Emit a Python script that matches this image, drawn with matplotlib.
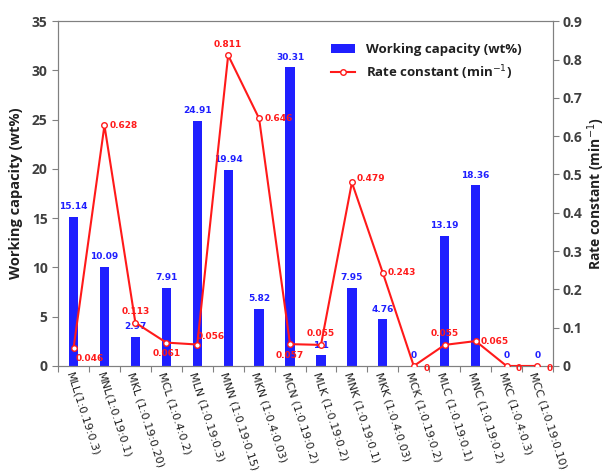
import numpy as np
import matplotlib.pyplot as plt

samples = ["MLL(1:0.19:0.3)", "MNL(1:0.19:0.1)", "MKL (1:0.19:0.20)", "MCL (1:0.4:0.2)",
           "MLN (1:0.19:0.3)", "MNN (1:0.19:0.15)", "MKN (1:0.4:0.03)", "MCN (1:0.19:0.2)",
           "MLK (1:0.19:0.2)", "MNK (1:0.19:0.1)", "MKK (1:0.4:0.03)", "MCK (1:0.19:0.2)",
           "MLC (1:0.19:0.1)", "MNC (1:0.19:0.2)", "MKC (1:0.4:0.3)", "MCC (1:0.19:0.10)"]
capacity = [15.14, 10.09, 2.97, 7.91, 24.91, 19.94, 5.82, 30.31,
            1.1, 7.95, 4.76, 0, 13.19, 18.36, 0, 0]
rate = [0.046, 0.628, 0.113, 0.061, 0.056, 0.811, 0.646, 0.057,
        0.055, 0.479, 0.243, 0, 0.055, 0.065, 0, 0]
rate_text = ["0.046", "0.628", "0.113", "0.061", "0.056", "0.811", "0.646", "0.057",
             "0.055", "0.479", "0.243", "0", "0.055", "0.065", "0", "0"]
# label offsets (points) for the rate labels
rate_off = [(12, -7), (14, 0), (0, 8), (0, -8), (10, 6), (0, 8), (14, 0), (0, -8),
            (0, 8), (14, 3), (14, 0), (9, -2), (0, 8), (14, 0), (9, -2), (9, -2)]

blue = '#1f1fff'
red = '#ff1a1a'
tick_col = '#404040'

fig = plt.figure(figsize=(6.11, 4.71), dpi=100)
ax = fig.add_axes([0.095, 0.223, 0.81, 0.732])
x = np.arange(len(samples))

bars = ax.bar(x, capacity, width=0.3, color=blue, label='Working capacity (wt%)', zorder=2)
for xi, v in zip(x, capacity):
    ax.annotate(f"{v:g}" if v != 0 else "0", (xi, v), xytext=(0, 4), textcoords='offset points',
                ha='center', va='bottom', color=blue, fontsize=6.5, fontweight='bold',
                family='DejaVu Sans')

ax.set_xlim(-0.5, len(samples) - 0.5)
ax.set_ylim(0, 35)
ax.set_yticks(range(0, 36, 5))
ax.set_xticks(np.arange(-0.5, len(samples), 1.0))
ax.set_xticklabels([])
ax.set_xticks(x, minor=True)
ax.set_xticklabels(samples, minor=True, rotation=-72, ha='left', rotation_mode='anchor',
                   fontsize=8, family='DejaVu Sans', color='#202020')
ax.tick_params(axis='x', which='minor', length=0, pad=4)
ax.tick_params(axis='x', which='major', length=4, direction='out', color='#808080')
ax.tick_params(axis='y', length=4, direction='out', color='#808080', labelsize=10,
               labelcolor=tick_col)
for lab in ax.get_yticklabels():
    lab.set_fontweight('bold')
    lab.set_family('Open Sans')
ax.set_ylabel('Working capacity (wt%)', fontsize=10.5, fontweight='bold', family='Open Sans',
              color='#202020', labelpad=6)
for s in ['left', 'bottom', 'top', 'right']:
    ax.spines[s].set_color('#808080')

ax2 = ax.twinx()
line, = ax2.plot(x, rate, color=red, lw=1.5, marker='o', ms=4, mfc='white', mec=red,
                 mew=1, label='Rate constant (min$^{-1}$)', zorder=3)
for xi, v, t, (dx, dy) in zip(x, rate, rate_text, rate_off):
    ax2.annotate(t, (xi, v), xytext=(dx, dy), textcoords='offset points', ha='center',
                 va='center', color=red, fontsize=6.5, fontweight='bold', family='DejaVu Sans')
ax2.set_ylim(0, 0.9)
ax2.set_yticks(np.arange(0, 0.91, 0.1))
ax2.set_yticklabels(['0'] + [f"{v:.1f}" for v in np.arange(0.1, 0.91, 0.1)])
ax2.tick_params(axis='y', length=4, direction='out', color='#808080', labelsize=10,
                labelcolor=tick_col, pad=3)
for lab in ax2.get_yticklabels():
    lab.set_fontweight('bold')
    lab.set_family('Open Sans')
ax2.set_ylabel('Rate constant (min$^{-1}$)', fontsize=10, fontweight='bold', family='Open Sans',
               color='#202020', labelpad=2)
for s in ['left', 'bottom', 'top', 'right']:
    ax2.spines[s].set_color('#808080')

leg = ax2.legend([bars, line], ['Working capacity (wt%)', 'Rate constant (min$^{-1}$)'],
                 loc='upper right', bbox_to_anchor=(0.96, 0.97), frameon=False,
                 prop={'family': 'Open Sans', 'weight': 'bold', 'size': 9.5},
                 handlelength=1.8, labelcolor='#202020')

fig.savefig('out.png', dpi=100)
